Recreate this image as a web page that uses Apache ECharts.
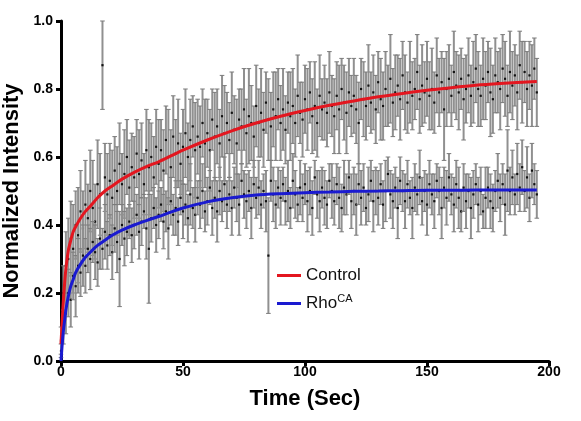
<!DOCTYPE html>
<html><head><meta charset="utf-8">
<script src="https://cdn.jsdelivr.net/npm/echarts@6/dist/echarts.min.js"></script>
<style>html,body{margin:0;padding:0;background:#fff}#c{width:581px;height:421px}</style>
</head><body><div id="c"></div>
<script>
// sampling interval 1 s, t = 0 .. 195
const controlMean = [
0.06,0.20,0.28,0.30,0.36,0.33,0.40,0.37,0.44,0.39,
0.46,0.42,0.50,0.45,0.41,0.52,0.49,0.87,0.54,0.49,
0.53,0.48,0.56,0.50,0.58,0.52,0.55,0.60,0.51,0.57,
0.54,0.61,0.55,0.59,0.52,0.62,0.57,0.60,0.54,0.63,
0.58,0.62,0.56,0.65,0.60,0.57,0.66,0.61,0.64,0.58,
0.63,0.67,0.60,0.65,0.69,0.62,0.66,0.63,0.70,0.64,
0.67,0.62,0.71,0.66,0.69,0.64,0.72,0.67,0.70,0.65,
0.73,0.68,0.64,0.71,0.69,0.74,0.67,0.72,0.70,0.66,
0.75,0.70,0.73,0.68,0.76,0.71,0.69,0.74,0.72,0.77,
0.70,0.74,0.68,0.76,0.72,0.75,0.70,0.78,0.73,0.71,
0.77,0.74,0.79,0.72,0.75,0.70,0.78,0.74,0.76,0.73,
0.79,0.75,0.72,0.78,0.74,0.80,0.76,0.73,0.79,0.75,
0.78,0.74,0.70,0.80,0.77,0.75,0.81,0.76,0.79,0.74,
0.82,0.77,0.75,0.80,0.78,0.83,0.76,0.79,0.81,0.77,
0.84,0.79,0.76,0.82,0.78,0.80,0.85,0.77,0.81,0.79,
0.83,0.78,0.80,0.76,0.84,0.79,0.82,0.74,0.80,0.83,
0.78,0.85,0.81,0.79,0.83,0.77,0.80,0.84,0.78,0.82,
0.86,0.80,0.78,0.83,0.81,0.85,0.79,0.77,0.84,0.82,
0.80,0.86,0.83,0.78,0.85,0.81,0.84,0.79,0.87,0.82,
0.85,0.80,0.84,0.81,0.86,0.79];
const controlErr = [
0.04,0.08,0.10,0.12,0.11,0.13,0.10,0.14,0.12,0.11,
0.13,0.10,0.12,0.14,0.11,0.13,0.12,0.13,0.10,0.12,
0.11,0.14,0.10,0.13,0.12,0.09,0.13,0.11,0.14,0.10,
0.12,0.10,0.13,0.11,0.09,0.12,0.14,0.10,0.12,0.11,
0.13,0.09,0.12,0.10,0.14,0.11,0.12,0.10,0.13,0.09,
0.11,0.13,0.10,0.12,0.09,0.14,0.11,0.12,0.10,0.13,
0.10,0.12,0.09,0.13,0.11,0.10,0.12,0.14,0.09,0.11,
0.12,0.10,0.13,0.09,0.11,0.12,0.10,0.14,0.11,0.09,
0.12,0.10,0.13,0.11,0.09,0.12,0.10,0.11,0.13,0.09,
0.11,0.12,0.10,0.09,0.13,0.11,0.10,0.12,0.09,0.11,
0.10,0.12,0.09,0.11,0.13,0.10,0.12,0.09,0.11,0.10,
0.12,0.09,0.11,0.10,0.13,0.09,0.11,0.12,0.10,0.09,
0.11,0.10,0.12,0.09,0.11,0.10,0.12,0.09,0.11,0.10,
0.09,0.12,0.10,0.11,0.09,0.13,0.10,0.11,0.09,0.12,
0.10,0.11,0.09,0.12,0.10,0.09,0.11,0.10,0.12,0.09,
0.11,0.10,0.12,0.09,0.11,0.10,0.09,0.15,0.11,0.10,
0.09,0.12,0.10,0.11,0.09,0.12,0.10,0.11,0.09,0.12,
0.10,0.11,0.09,0.12,0.10,0.09,0.13,0.10,0.11,0.09,
0.12,0.10,0.11,0.09,0.12,0.10,0.09,0.11,0.10,0.12,
0.09,0.11,0.10,0.12,0.09,0.10];
const rhoMean = [
0.03,0.10,0.14,0.20,0.18,0.25,0.22,0.28,0.26,0.31,
0.28,0.33,0.30,0.35,0.32,0.29,0.36,0.33,0.38,0.34,
0.37,0.32,0.39,0.35,0.30,0.40,0.36,0.38,0.41,0.37,
0.40,0.43,0.38,0.41,0.44,0.39,0.33,0.42,0.45,0.40,
0.43,0.46,0.41,0.44,0.39,0.47,0.43,0.45,0.41,0.48,
0.44,0.46,0.42,0.49,0.45,0.43,0.48,0.46,0.50,0.44,
0.47,0.51,0.45,0.48,0.44,0.50,0.47,0.52,0.46,0.49,
0.45,0.51,0.48,0.46,0.53,0.49,0.47,0.50,0.45,0.52,
0.48,0.51,0.46,0.50,0.47,0.31,0.53,0.49,0.46,0.51,
0.48,0.52,0.47,0.50,0.45,0.53,0.49,0.46,0.51,0.48,
0.52,0.47,0.50,0.45,0.54,0.49,0.47,0.51,0.48,0.46,
0.53,0.50,0.47,0.52,0.48,0.45,0.51,0.49,0.54,0.47,
0.50,0.46,0.52,0.48,0.51,0.45,0.49,0.53,0.47,0.50,
0.48,0.52,0.46,0.50,0.55,0.49,0.47,0.51,0.45,0.53,
0.50,0.47,0.52,0.48,0.45,0.51,0.49,0.54,0.47,0.50,
0.46,0.52,0.49,0.47,0.53,0.50,0.45,0.51,0.48,0.54,
0.49,0.46,0.52,0.48,0.44,0.51,0.47,0.50,0.45,0.49,
0.52,0.46,0.50,0.44,0.48,0.51,0.47,0.45,0.50,0.53,
0.48,0.52,0.46,0.56,0.50,0.54,0.49,0.55,0.51,0.57,
0.50,0.54,0.48,0.56,0.52,0.49];
const rhoErr = [
0.02,0.05,0.06,0.07,0.08,0.07,0.09,0.08,0.07,0.09,
0.08,0.07,0.09,0.06,0.08,0.07,0.09,0.06,0.08,0.07,
0.06,0.08,0.07,0.09,0.14,0.06,0.08,0.07,0.05,0.08,
0.07,0.06,0.08,0.07,0.05,0.09,0.16,0.07,0.06,0.08,
0.07,0.05,0.08,0.06,0.09,0.07,0.06,0.08,0.07,0.05,
0.08,0.06,0.07,0.09,0.06,0.08,0.05,0.07,0.08,0.06,
0.07,0.05,0.08,0.06,0.09,0.07,0.06,0.08,0.07,0.05,
0.08,0.06,0.07,0.09,0.05,0.07,0.08,0.06,0.09,0.07,
0.06,0.08,0.07,0.05,0.09,0.17,0.06,0.08,0.07,0.06,
0.08,0.05,0.07,0.09,0.06,0.08,0.07,0.05,0.08,0.07,
0.06,0.09,0.07,0.08,0.05,0.07,0.09,0.06,0.08,0.07,
0.05,0.08,0.07,0.06,0.09,0.07,0.08,0.06,0.05,0.08,
0.07,0.09,0.06,0.08,0.07,0.05,0.08,0.06,0.09,0.07,
0.08,0.06,0.07,0.09,0.05,0.07,0.08,0.06,0.09,0.07,
0.06,0.08,0.07,0.05,0.09,0.07,0.06,0.08,0.07,0.06,
0.09,0.07,0.06,0.08,0.05,0.07,0.09,0.06,0.08,0.07,
0.06,0.08,0.07,0.09,0.06,0.07,0.08,0.05,0.09,0.07,
0.06,0.08,0.07,0.05,0.09,0.06,0.08,0.07,0.06,0.08,
0.07,0.06,0.09,0.12,0.07,0.08,0.06,0.09,0.07,0.08,
0.06,0.09,0.07,0.08,0.06,0.07];
const fitTimes   = [0,0.5,1,1.5,2,3,4,5,6,8,10,12,15,18,21,25,30,35,40,45,50,60,70,80,90,100,110,120,130,140,150,160,170,180,195];
const controlFit = [0.05,0.12,0.18,0.23,0.27,0.325,0.355,0.38,0.395,0.42,0.44,0.455,0.48,0.50,0.515,0.535,0.555,0.572,0.586,0.603,0.62,0.65,0.677,0.70,0.72,0.737,0.752,0.765,0.777,0.787,0.796,0.804,0.811,0.816,0.822];
const rhoFit     = [0.0,0.05,0.09,0.12,0.15,0.19,0.22,0.24,0.26,0.285,0.305,0.32,0.34,0.355,0.37,0.385,0.40,0.413,0.425,0.438,0.45,0.468,0.48,0.488,0.492,0.495,0.497,0.499,0.50,0.501,0.502,0.502,0.503,0.503,0.503];
const xTicks = [0,50,100,150,200];
const yTicks = [0,0.2,0.4,0.6,0.8,1.0];

const FONT = 'Liberation Sans, Arial, sans-serif';
function pts(mean, err){ return mean.map((m,i)=>[i, m, err[i]]); }
function fitPts(ys){ return fitTimes.map((t,i)=>[t, ys[i]]); }
function errRender(params, api){
  const x=api.value(0), y=api.value(1), e=api.value(2);
  const t=api.coord([x,y+e]), b=api.coord([x,y-e]), c=api.coord([x,y]);
  const st={stroke:'#909090', lineWidth:2};
  const cs={stroke:'#7a7a7a', lineWidth:1};
  return {type:'group', children:[
    {type:'line', shape:{x1:t[0],y1:t[1],x2:b[0],y2:b[1]}, style:st},
    {type:'line', shape:{x1:t[0]-2.3,y1:t[1],x2:t[0]+2.3,y2:t[1]}, style:cs},
    {type:'line', shape:{x1:b[0]-2.3,y1:b[1],x2:b[0]+2.3,y2:b[1]}, style:cs},
    {type:'rect', shape:{x:c[0]-1.1,y:c[1]-1.1,width:2.2,height:2.2}, style:{fill:'#111'}}
  ]};
}
const chart = echarts.init(document.getElementById('c'), null, {renderer:'canvas'});
chart.setOption({
  animation:false,
  backgroundColor:'#fff',
  grid:{left:61, right:32, top:21, bottom:60, containLabel:false, outerBoundsMode:'none'},
  xAxis:{type:'value', min:xTicks[0], max:xTicks[xTicks.length-1], interval:50,
    name:'Time (Sec)', nameLocation:'middle', nameGap:27,
    nameTextStyle:{fontFamily:FONT, fontWeight:'bold', fontSize:22, color:'#000'},
    axisLine:{lineStyle:{color:'#000', width:3}},
    axisTick:{inside:false, length:5, lineStyle:{color:'#000', width:3}},
    axisLabel:{fontFamily:FONT, fontWeight:'bold', fontSize:14, color:'#000', margin:4},
    splitLine:{show:false}},
  yAxis:{type:'value', min:yTicks[0], max:yTicks[yTicks.length-1], interval:0.2,
    name:'Normalized Intensity', nameLocation:'middle', nameGap:23,
    nameTextStyle:{fontFamily:FONT, fontWeight:'bold', fontSize:22, color:'#000'},
    axisLine:{lineStyle:{color:'#000', width:3}},
    axisTick:{inside:false, length:5, lineStyle:{color:'#000', width:3}},
    axisLabel:{fontFamily:FONT, fontWeight:'bold', fontSize:14, color:'#000', margin:8,
      formatter:v=>v.toFixed(1)},
    splitLine:{show:false}},
  legend:{data:['Control','RhoCA'], orient:'vertical', left:272, top:262, itemGap:9,
    itemWidth:24, itemHeight:3, icon:'rect',
    textStyle:{fontFamily:FONT, fontSize:17, color:'#111',
      rich:{sup:{fontFamily:FONT, fontSize:11, color:'#111', verticalAlign:'top', padding:[0,0,10,0]}}},
    formatter:n=> n==='RhoCA' ? 'Rho{sup|CA}' : n},
  series:[
    {name:'ctrlErr', type:'custom', renderItem:errRender, data:pts(controlMean, controlErr), z:2, silent:true},
    {name:'rhoErr', type:'custom', renderItem:errRender, data:pts(rhoMean, rhoErr), z:2, silent:true},
    {name:'Control', type:'line', data:fitPts(controlFit), smooth:0.25, showSymbol:false,
      lineStyle:{color:'#e3161f', width:3}, itemStyle:{color:'#e3161f'}, z:5},
    {name:'RhoCA', type:'line', data:fitPts(rhoFit), smooth:0.25, showSymbol:false,
      lineStyle:{color:'#1a1ad0', width:3}, itemStyle:{color:'#1a1ad0'}, z:5}
  ]
});
</script></body></html>
